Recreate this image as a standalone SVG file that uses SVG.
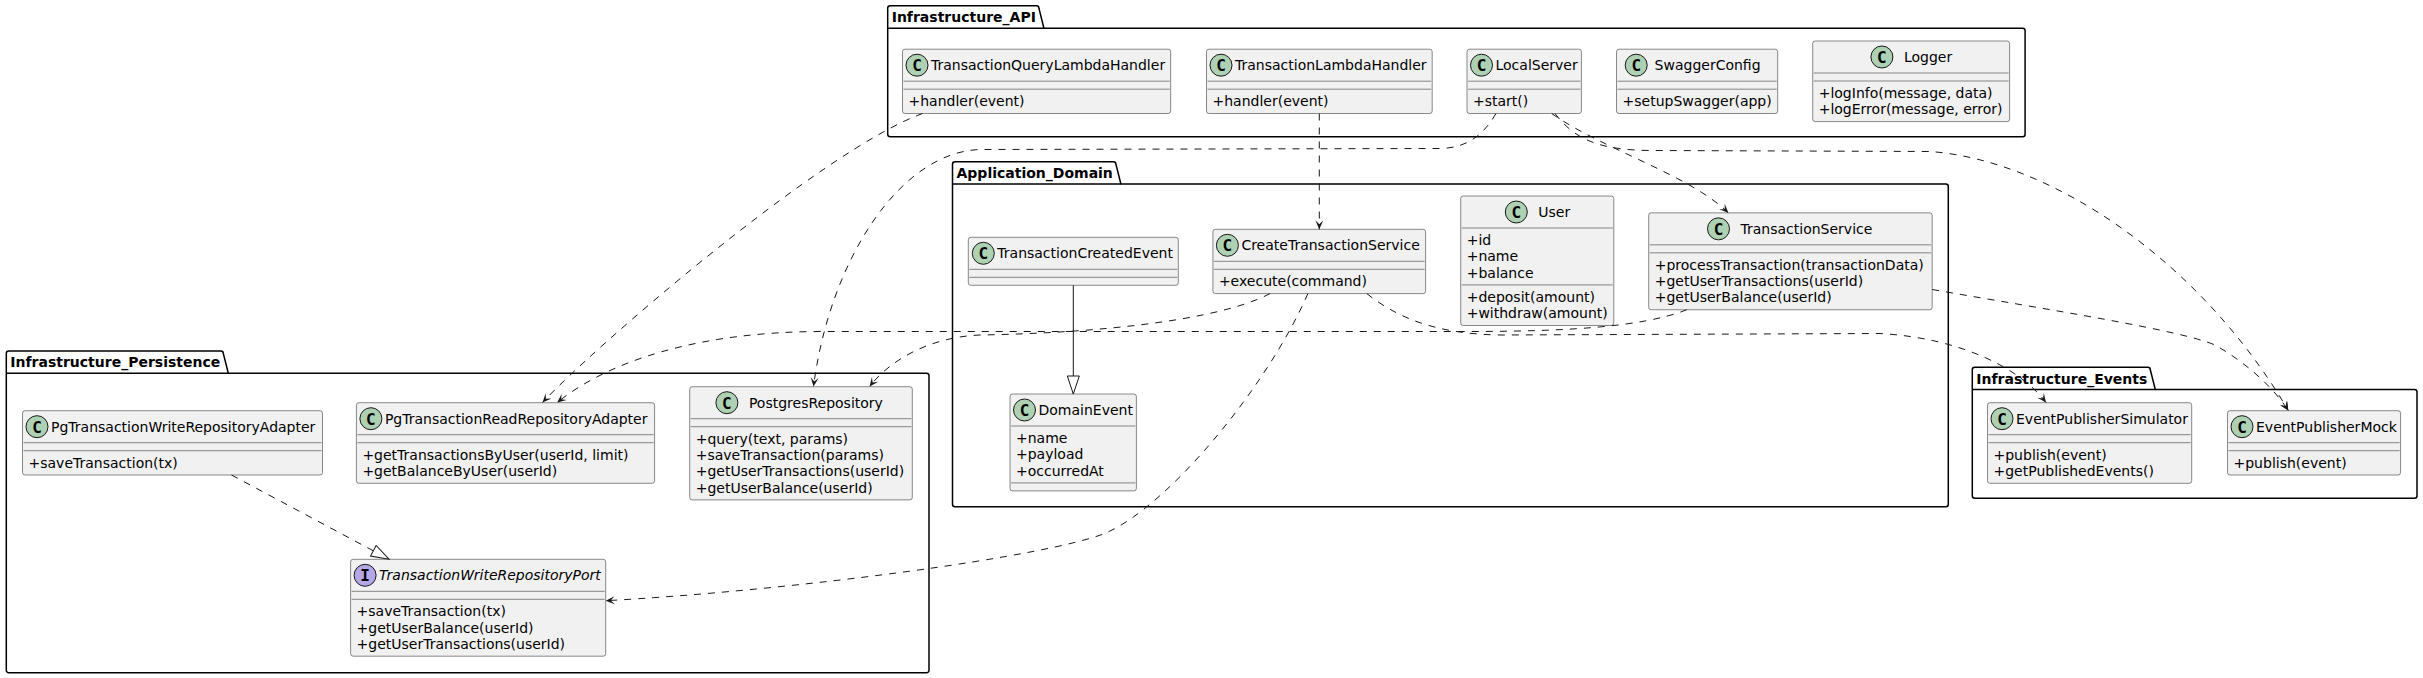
<svg xmlns="http://www.w3.org/2000/svg" width="2423" height="678" viewBox="0 0 2423 678">
<defs>
<style>
.pkg{fill:none;stroke:#000000;stroke-width:1.5}
.pl{font-family:"DejaVu Sans",sans-serif;font-size:14px;font-weight:bold;fill:#000000}
.box{fill:#F1F1F1;stroke:#181818;stroke-width:0.5}
.dv{stroke:#181818;stroke-width:0.5}
.sc{fill:#ADD1B2;stroke:#181818;stroke-width:1}
.si{fill:#B4A7E5;stroke:#181818;stroke-width:1}
.sl{font-family:"DejaVu Sans Mono",monospace;font-size:16px;font-weight:bold;fill:#000000;text-anchor:middle}
.t{font-family:"DejaVu Sans",sans-serif;font-size:14px;fill:#000000}
.it{font-style:italic}
.e{fill:none;stroke:#181818;stroke-width:1}
.d{stroke-dasharray:7,7}
</style>
<marker id="ah" markerUnits="userSpaceOnUse" viewBox="-10 -5 11 10" markerWidth="11" markerHeight="10" refX="0" refY="0" orient="auto"><path d="M0,0 L-9,-4 L-5,0 L-9,4 Z" fill="#181818"/></marker>
<marker id="tri" markerUnits="userSpaceOnUse" viewBox="-19 -7 20 14" markerWidth="20" markerHeight="14" refX="0" refY="0" orient="auto"><path d="M0,0 L-18,-6 L-18,6 Z" fill="#FFFFFF" stroke="#181818" stroke-width="1"/></marker>
</defs>
<rect width="2423" height="678" fill="#FFFFFF"/>

<g id="pkg_Infrastructure_API">
<path class="pkg" d="M887.7,8.2 A2.5,2.5 0 0 1 890.2,5.7 L1036.4,5.7 A2.5,2.5 0 0 1 1038.9,8.2 L1043.9,28.3 L2022.6,28.3 A2.5,2.5 0 0 1 2025.1,30.8 L2025.1,134.2 A2.5,2.5 0 0 1 2022.6,136.7 L890.2,136.7 A2.5,2.5 0 0 1 887.7,134.2 Z"/>
<line class="pkg" x1="887.7" y1="28.3" x2="1043.9" y2="28.3"/>
<text class="pl" x="891.7" y="22">Infrastructure_API</text>
</g>
<g id="pkg_Application_Domain">
<path class="pkg" d="M952.5,164.2 A2.5,2.5 0 0 1 955,161.7 L1113.4,161.7 A2.5,2.5 0 0 1 1115.9,164.2 L1120.9,184 L1945.8,184 A2.5,2.5 0 0 1 1948.3,186.5 L1948.3,504.2 A2.5,2.5 0 0 1 1945.8,506.7 L955,506.7 A2.5,2.5 0 0 1 952.5,504.2 Z"/>
<line class="pkg" x1="952.5" y1="184" x2="1120.9" y2="184"/>
<text class="pl" x="956.5" y="178">Application_Domain</text>
</g>
<g id="pkg_Infrastructure_Persistence">
<path class="pkg" d="M6.3,353.5 A2.5,2.5 0 0 1 8.8,351 L220.8,351 A2.5,2.5 0 0 1 223.3,353.5 L228.3,373.3 L926.5,373.3 A2.5,2.5 0 0 1 929,375.8 L929,670.2 A2.5,2.5 0 0 1 926.5,672.7 L8.8,672.7 A2.5,2.5 0 0 1 6.3,670.2 Z"/>
<line class="pkg" x1="6.3" y1="373.3" x2="228.3" y2="373.3"/>
<text class="pl" x="10.3" y="367.3">Infrastructure_Persistence</text>
</g>
<g id="pkg_Infrastructure_Events">
<path class="pkg" d="M1972.3,369.8 A2.5,2.5 0 0 1 1974.8,367.3 L2147.8,367.3 A2.5,2.5 0 0 1 2150.3,369.8 L2155.3,389.5 L2414.5,389.5 A2.5,2.5 0 0 1 2417,392 L2417,495.8 A2.5,2.5 0 0 1 2414.5,498.3 L1974.8,498.3 A2.5,2.5 0 0 1 1972.3,495.8 Z"/>
<line class="pkg" x1="1972.3" y1="389.5" x2="2155.3" y2="389.5"/>
<text class="pl" x="1976.3" y="383.6">Infrastructure_Events</text>
</g>

<g id="TransactionQueryLambdaHandler">
<rect class="box" x="902.5" y="49.2" width="268.2" height="64.3" rx="2.5"/>
<circle class="sc" cx="917" cy="65.2" r="11"/><text class="sl" x="917" y="71">C</text>
<text class="t" x="931" y="70">TransactionQueryLambdaHandler</text>
<line class="dv" x1="903.5" y1="81.2" x2="1169.7" y2="81.2"/><line class="dv" x1="903.5" y1="89.2" x2="1169.7" y2="89.2"/>
<text class="t" x="908.5" y="106.2">+handler(event)</text>
</g>
<g id="TransactionLambdaHandler">
<rect class="box" x="1206.5" y="49.2" width="225.7" height="64.3" rx="2.5"/>
<circle class="sc" cx="1221" cy="65.2" r="11"/><text class="sl" x="1221" y="71">C</text>
<text class="t" x="1235" y="70">TransactionLambdaHandler</text>
<line class="dv" x1="1207.5" y1="81.2" x2="1431.2" y2="81.2"/><line class="dv" x1="1207.5" y1="89.2" x2="1431.2" y2="89.2"/>
<text class="t" x="1212.5" y="106.2">+handler(event)</text>
</g>
<g id="LocalServer">
<rect class="box" x="1467" y="49.2" width="114.4" height="64.3" rx="2.5"/>
<circle class="sc" cx="1481.5" cy="65.2" r="11"/><text class="sl" x="1481.5" y="71">C</text>
<text class="t" x="1495.5" y="70">LocalServer</text>
<line class="dv" x1="1468" y1="81.2" x2="1580.4" y2="81.2"/><line class="dv" x1="1468" y1="89.2" x2="1580.4" y2="89.2"/>
<text class="t" x="1473" y="106.2">+start()</text>
</g>
<g id="SwaggerConfig">
<rect class="box" x="1616.5" y="49.2" width="161.2" height="64.3" rx="2.5"/>
<circle class="sc" cx="1636.2" cy="65.2" r="11"/><text class="sl" x="1636.2" y="71">C</text>
<text class="t" x="1654.6" y="70">SwaggerConfig</text>
<line class="dv" x1="1617.5" y1="81.2" x2="1776.7" y2="81.2"/><line class="dv" x1="1617.5" y1="89.2" x2="1776.7" y2="89.2"/>
<text class="t" x="1622.5" y="106.2">+setupSwagger(app)</text>
</g>
<g id="Logger">
<rect class="box" x="1812.7" y="41" width="196.9" height="80.6" rx="2.5"/>
<circle class="sc" cx="1881.9" cy="57" r="11"/><text class="sl" x="1881.9" y="62.8">C</text>
<text class="t" x="1903.9" y="61.85">Logger</text>
<line class="dv" x1="1813.7" y1="73" x2="2008.6" y2="73"/><line class="dv" x1="1813.7" y1="81" x2="2008.6" y2="81"/>
<text class="t" x="1818.7" y="98">+logInfo(message, data)</text>
<text class="t" x="1818.7" y="114.3">+logError(message, error)</text>
</g>

<g id="TransactionCreatedEvent">
<rect class="box" x="968.3" y="237.3" width="210" height="48" rx="2.5"/>
<circle class="sc" cx="983.3" cy="253.3" r="11"/><text class="sl" x="983.3" y="259.1">C</text>
<text class="t" x="997.3" y="258.15">TransactionCreatedEvent</text>
<line class="dv" x1="969.3" y1="269.3" x2="1177.3" y2="269.3"/><line class="dv" x1="969.3" y1="277.3" x2="1177.3" y2="277.3"/>
</g>
<g id="CreateTransactionService">
<rect class="box" x="1212.9" y="229.3" width="212.7" height="64.3" rx="2.5"/>
<circle class="sc" cx="1227.4" cy="245.3" r="11"/><text class="sl" x="1227.4" y="251.1">C</text>
<text class="t" x="1241.4" y="250.15">CreateTransactionService</text>
<line class="dv" x1="1213.9" y1="261.3" x2="1424.6" y2="261.3"/><line class="dv" x1="1213.9" y1="269.3" x2="1424.6" y2="269.3"/>
<text class="t" x="1218.9" y="286.3">+execute(command)</text>
</g>
<g id="User">
<rect class="box" x="1460.7" y="196" width="153.1" height="129.5" rx="2.5"/>
<circle class="sc" cx="1516.3" cy="212" r="11"/><text class="sl" x="1516.3" y="217.8">C</text>
<text class="t" x="1538.3" y="216.85">User</text>
<line class="dv" x1="1461.7" y1="228" x2="1612.8" y2="228"/><line class="dv" x1="1461.7" y1="284.9" x2="1612.8" y2="284.9"/>
<text class="t" x="1466.7" y="245">+id</text>
<text class="t" x="1466.7" y="261.3">+name</text>
<text class="t" x="1466.7" y="277.6">+balance</text>
<text class="t" x="1466.7" y="301.9">+deposit(amount)</text>
<text class="t" x="1466.7" y="318.2">+withdraw(amount)</text>
</g>
<g id="TransactionService">
<rect class="box" x="1648.7" y="212.85" width="283.5" height="96.9" rx="2.5"/>
<circle class="sc" cx="1718.5" cy="228.85" r="11"/><text class="sl" x="1718.5" y="234.65">C</text>
<text class="t" x="1740.5" y="233.7">TransactionService</text>
<line class="dv" x1="1649.7" y1="244.85" x2="1931.2" y2="244.85"/><line class="dv" x1="1649.7" y1="252.85" x2="1931.2" y2="252.85"/>
<text class="t" x="1654.7" y="269.85">+processTransaction(transactionData)</text>
<text class="t" x="1654.7" y="286.15">+getUserTransactions(userId)</text>
<text class="t" x="1654.7" y="302.45">+getUserBalance(userId)</text>
</g>
<g id="DomainEvent">
<rect class="box" x="1010" y="394" width="126.4" height="96.9" rx="2.5"/>
<circle class="sc" cx="1024.5" cy="410" r="11"/><text class="sl" x="1024.5" y="415.8">C</text>
<text class="t" x="1038.5" y="414.85">DomainEvent</text>
<line class="dv" x1="1011" y1="426" x2="1135.4" y2="426"/><line class="dv" x1="1011" y1="482.9" x2="1135.4" y2="482.9"/>
<text class="t" x="1016" y="443">+name</text>
<text class="t" x="1016" y="459.3">+payload</text>
<text class="t" x="1016" y="475.6">+occurredAt</text>
</g>

<g id="PgTransactionWriteRepositoryAdapter">
<rect class="box" x="22.5" y="410.7" width="300" height="64.3" rx="2.5"/>
<circle class="sc" cx="37" cy="426.7" r="11"/><text class="sl" x="37" y="432.5">C</text>
<text class="t" x="51" y="431.55">PgTransactionWriteRepositoryAdapter</text>
<line class="dv" x1="23.5" y1="442.7" x2="321.5" y2="442.7"/><line class="dv" x1="23.5" y1="450.7" x2="321.5" y2="450.7"/>
<text class="t" x="28.5" y="467.7">+saveTransaction(tx)</text>
</g>
<g id="PgTransactionReadRepositoryAdapter">
<rect class="box" x="356.4" y="402.7" width="298.2" height="80.6" rx="2.5"/>
<circle class="sc" cx="370.9" cy="418.7" r="11"/><text class="sl" x="370.9" y="424.5">C</text>
<text class="t" x="384.9" y="423.55">PgTransactionReadRepositoryAdapter</text>
<line class="dv" x1="357.4" y1="434.7" x2="653.6" y2="434.7"/><line class="dv" x1="357.4" y1="442.7" x2="653.6" y2="442.7"/>
<text class="t" x="362.4" y="459.7">+getTransactionsByUser(userId, limit)</text>
<text class="t" x="362.4" y="476">+getBalanceByUser(userId)</text>
</g>
<g id="PostgresRepository">
<rect class="box" x="689.7" y="386.7" width="222.6" height="113.2" rx="2.5"/>
<circle class="sc" cx="726.9" cy="402.7" r="11"/><text class="sl" x="726.9" y="408.5">C</text>
<text class="t" x="748.9" y="407.55">PostgresRepository</text>
<line class="dv" x1="690.7" y1="418.7" x2="911.3" y2="418.7"/><line class="dv" x1="690.7" y1="426.7" x2="911.3" y2="426.7"/>
<text class="t" x="695.7" y="443.7">+query(text, params)</text>
<text class="t" x="695.7" y="460">+saveTransaction(params)</text>
<text class="t" x="695.7" y="476.3">+getUserTransactions(userId)</text>
<text class="t" x="695.7" y="492.6">+getUserBalance(userId)</text>
</g>
<g id="TransactionWriteRepositoryPort">
<rect class="box" x="350.6" y="559.3" width="255.1" height="96.9" rx="2.5"/>
<circle class="si" cx="365.1" cy="575.3" r="11"/><text class="sl" x="365.1" y="581.1">I</text>
<text class="t it" x="379.1" y="580.15">TransactionWriteRepositoryPort</text>
<line class="dv" x1="351.6" y1="591.3" x2="604.7" y2="591.3"/><line class="dv" x1="351.6" y1="599.3" x2="604.7" y2="599.3"/>
<text class="t" x="356.6" y="616.3">+saveTransaction(tx)</text>
<text class="t" x="356.6" y="632.6">+getUserBalance(userId)</text>
<text class="t" x="356.6" y="648.9">+getUserTransactions(userId)</text>
</g>

<g id="EventPublisherSimulator">
<rect class="box" x="1987.5" y="402.7" width="204.2" height="80.6" rx="2.5"/>
<circle class="sc" cx="2002" cy="418.7" r="11"/><text class="sl" x="2002" y="424.5">C</text>
<text class="t" x="2016" y="423.55">EventPublisherSimulator</text>
<line class="dv" x1="1988.5" y1="434.7" x2="2190.7" y2="434.7"/><line class="dv" x1="1988.5" y1="442.7" x2="2190.7" y2="442.7"/>
<text class="t" x="1993.5" y="459.7">+publish(event)</text>
<text class="t" x="1993.5" y="476">+getPublishedEvents()</text>
</g>
<g id="EventPublisherMock">
<rect class="box" x="2227.5" y="410.7" width="173.1" height="64.3" rx="2.5"/>
<circle class="sc" cx="2242" cy="426.7" r="11"/><text class="sl" x="2242" y="432.5">C</text>
<text class="t" x="2256" y="431.55">EventPublisherMock</text>
<line class="dv" x1="2228.5" y1="442.7" x2="2399.6" y2="442.7"/><line class="dv" x1="2228.5" y1="450.7" x2="2399.6" y2="450.7"/>
<text class="t" x="2233.5" y="467.7">+publish(event)</text>
</g>

<g id="connectors">
<path class="e d" marker-end="url(#ah)" d="M922.5,113.5 C822,150 592,349 542.5,402.5"/>
<path class="e d" marker-end="url(#ah)" d="M1319.3,113.5 L1319.3,229.3"/>
<path class="e d" marker-end="url(#ah)" d="M1496,113.5 C1485,132 1470,148 1440,148.5 L980,149.5 C900,152 830,260 813.5,386.5"/>
<path class="e d" marker-end="url(#ah)" d="M1551.7,113.5 C1600,148 1690,175 1728.3,212.8"/>
<path class="e d" marker-end="url(#ah)" d="M1555,113.5 C1575,140 1600,150 1650,150.5 L1930,151.5 C2050,160 2200,260 2288.3,410.5"/>
<path class="e d" marker-end="url(#ah)" d="M1686.7,309.8 C1640,328 1560,331 1480,331.5 L820,331.5 C700,332 610,360 557.2,402.5"/>
<path class="e d" marker-end="url(#ah)" d="M1932.2,289.5 C2050,310 2180,330 2215,345 C2250,365 2275,390 2288.3,410.5"/>
<path class="e d" marker-end="url(#ah)" d="M1270,293.6 C1220,320 1100,333 980,335 C930,337 890,360 869.6,386.5"/>
<path class="e d" marker-end="url(#ah)" d="M1307.9,293.6 C1268,385 1170,505 1105.8,533 C1050,556 800,590 605.7,600.7"/>
<path class="e d" marker-end="url(#ah)" d="M1366.8,293.6 C1400,320 1440,334 1500,335 L1880,333.5 C1960,338 2020,368 2046,402.5"/>
<path class="e" marker-end="url(#tri)" d="M1073.3,285.3 L1073.3,394"/>
<path class="e d" marker-end="url(#tri)" d="M231.5,475 L389.2,559.3"/>
</g>
</svg>
